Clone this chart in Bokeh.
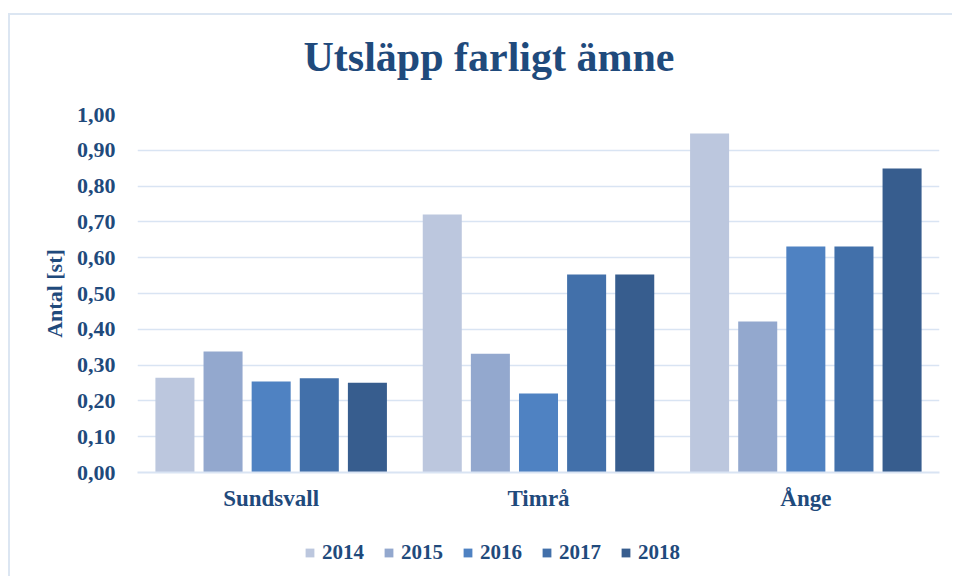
from bokeh.plotting import figure
from bokeh.layouts import column
from bokeh.models import (FactorRange, Range1d, Legend, LegendItem, ColumnDataSource,
                          CustomJSTickFormatter, FixedTicker)
from bokeh.transform import dodge
from bokeh.embed import file_html
from bokeh.resources import INLINE

# ---- data ----
categories = ["Sundsvall", "Timrå", "Ånge"]
years = ["2014", "2015", "2016", "2017", "2018"]
v2014 = [0.265, 0.721, 0.947]
v2015 = [0.338, 0.332, 0.422]
v2016 = [0.254, 0.221, 0.631]
v2017 = [0.263, 0.553, 0.631]
v2018 = [0.251, 0.553, 0.849]
y_ticks = [0.0, 0.1, 0.2, 0.3, 0.4, 0.5, 0.6, 0.7, 0.8, 0.9, 1.0]
title_text = "Utsläpp farligt ämne"
y_label = "Antal [st]"

series = [v2014, v2015, v2016, v2017, v2018]
colors = ["#BCC7DE", "#93A8CE", "#4F82C2", "#4270AA", "#375D8E"]
offsets = [-0.36, -0.18, 0.0, 0.18, 0.36]

FONT = "Liberation Serif"
TXT = "#1F4A7C"
GRID = "#D9E4F3"
FRAME = "#DCE6F2"
W = 942

# ---- title strip ----
tf = figure(width=W, height=84, output_backend="svg", toolbar_location=None,
            x_range=Range1d(0, 1), y_range=Range1d(0, 1),
            min_border_left=0, min_border_right=0, min_border_top=71, min_border_bottom=0)
tf.axis.visible = False
tf.grid.visible = False
tf.outline_line_color = None
tf.border_fill_color = "white"
tf.title.text = title_text
tf.title.align = "left"
tf.title.text_font = FONT
tf.title.text_font_style = "bold"
tf.title.text_font_size = "42px"
tf.title.text_color = TXT
tf.title.offset = 166
tf.title.standoff = 14

# ---- main chart ----
src = ColumnDataSource(dict(cat=categories, **{"y" + y: s for y, s in zip(years, series)}))

p = figure(x_range=FactorRange(factors=categories, range_padding=0),
           y_range=Range1d(0, 1.0),
           width=W, height=421,
           output_backend="svg", toolbar_location=None,
           min_border_left=127, min_border_right=13,
           min_border_top=15, min_border_bottom=48)

p.outline_line_color = None
p.background_fill_color = "white"
p.border_fill_color = "white"

renderers = []
for yr, col, off in zip(years, colors, offsets):
    r = p.vbar(x=dodge("cat", off, range=p.x_range), top="y" + yr, width=0.146,
               source=src, fill_color=col, line_color=None)
    renderers.append(r)

p.xgrid.grid_line_color = None
p.ygrid.grid_line_color = GRID
p.ygrid.grid_line_width = 1.5

p.yaxis.ticker = FixedTicker(ticks=y_ticks)
p.yaxis.formatter = CustomJSTickFormatter(code="return tick.toFixed(2).replace('.', ',');")
p.yaxis.axis_line_color = None
p.yaxis.major_tick_line_color = None
p.yaxis.minor_tick_line_color = None
p.yaxis.major_label_text_font = FONT
p.yaxis.major_label_text_font_style = "bold"
p.yaxis.major_label_text_font_size = "22px"
p.yaxis.major_label_text_color = TXT
p.yaxis.major_label_standoff = 16
p.yaxis.axis_label = y_label
p.yaxis.axis_label_text_font = FONT
p.yaxis.axis_label_text_font_style = "bold"
p.yaxis.axis_label_text_font_size = "22px"
p.yaxis.axis_label_text_color = TXT
p.yaxis.axis_label_standoff = 7

p.xaxis.axis_line_color = GRID
p.xaxis.axis_line_width = 2
p.xaxis.major_tick_line_color = None
p.xaxis.minor_tick_line_color = None
p.xaxis.major_label_text_font = FONT
p.xaxis.major_label_text_font_style = "bold"
p.xaxis.major_label_text_font_size = "23px"
p.xaxis.major_label_text_color = TXT
p.xaxis.major_label_standoff = 7

# ---- legend strip ----
lf = figure(width=W, height=56, output_backend="svg", toolbar_location=None,
            x_range=Range1d(0, 1), y_range=Range1d(0, 1),
            min_border_left=0, min_border_right=0, min_border_top=0, min_border_bottom=0)
lf.axis.visible = False
lf.grid.visible = False
lf.outline_line_color = None
lf.border_fill_color = "white"
# zero-height bars: only their legend swatches show
swatch_src = ColumnDataSource(dict(x=[0.5], top=[0.0]))
leg_r = [lf.vbar(x="x", top="top", width=0.01, source=swatch_src, fill_color=c, line_color=None)
         for c in colors]
legend = Legend(items=[LegendItem(label=yr, renderers=[r]) for yr, r in zip(years, leg_r)],
                orientation="horizontal", location=(167, 11))
legend.label_text_font = FONT
legend.label_text_font_style = "bold"
legend.label_text_font_size = "21px"
legend.label_text_color = TXT
legend.glyph_width = 11
legend.glyph_height = 11
legend.label_standoff = 7
legend.spacing = 19
legend.border_line_color = None
legend.background_fill_alpha = 0
legend.margin = 0
legend.padding = 5
lf.add_layout(legend, "center")

layout = column(tf, p, lf, spacing=0,
                styles={"border-top": f"2px solid {FRAME}", "border-left": f"2px solid {FRAME}",
                        "margin-left": "8px", "margin-top": "13px"})

open("out.html", "w").write(file_html(layout, INLINE))
